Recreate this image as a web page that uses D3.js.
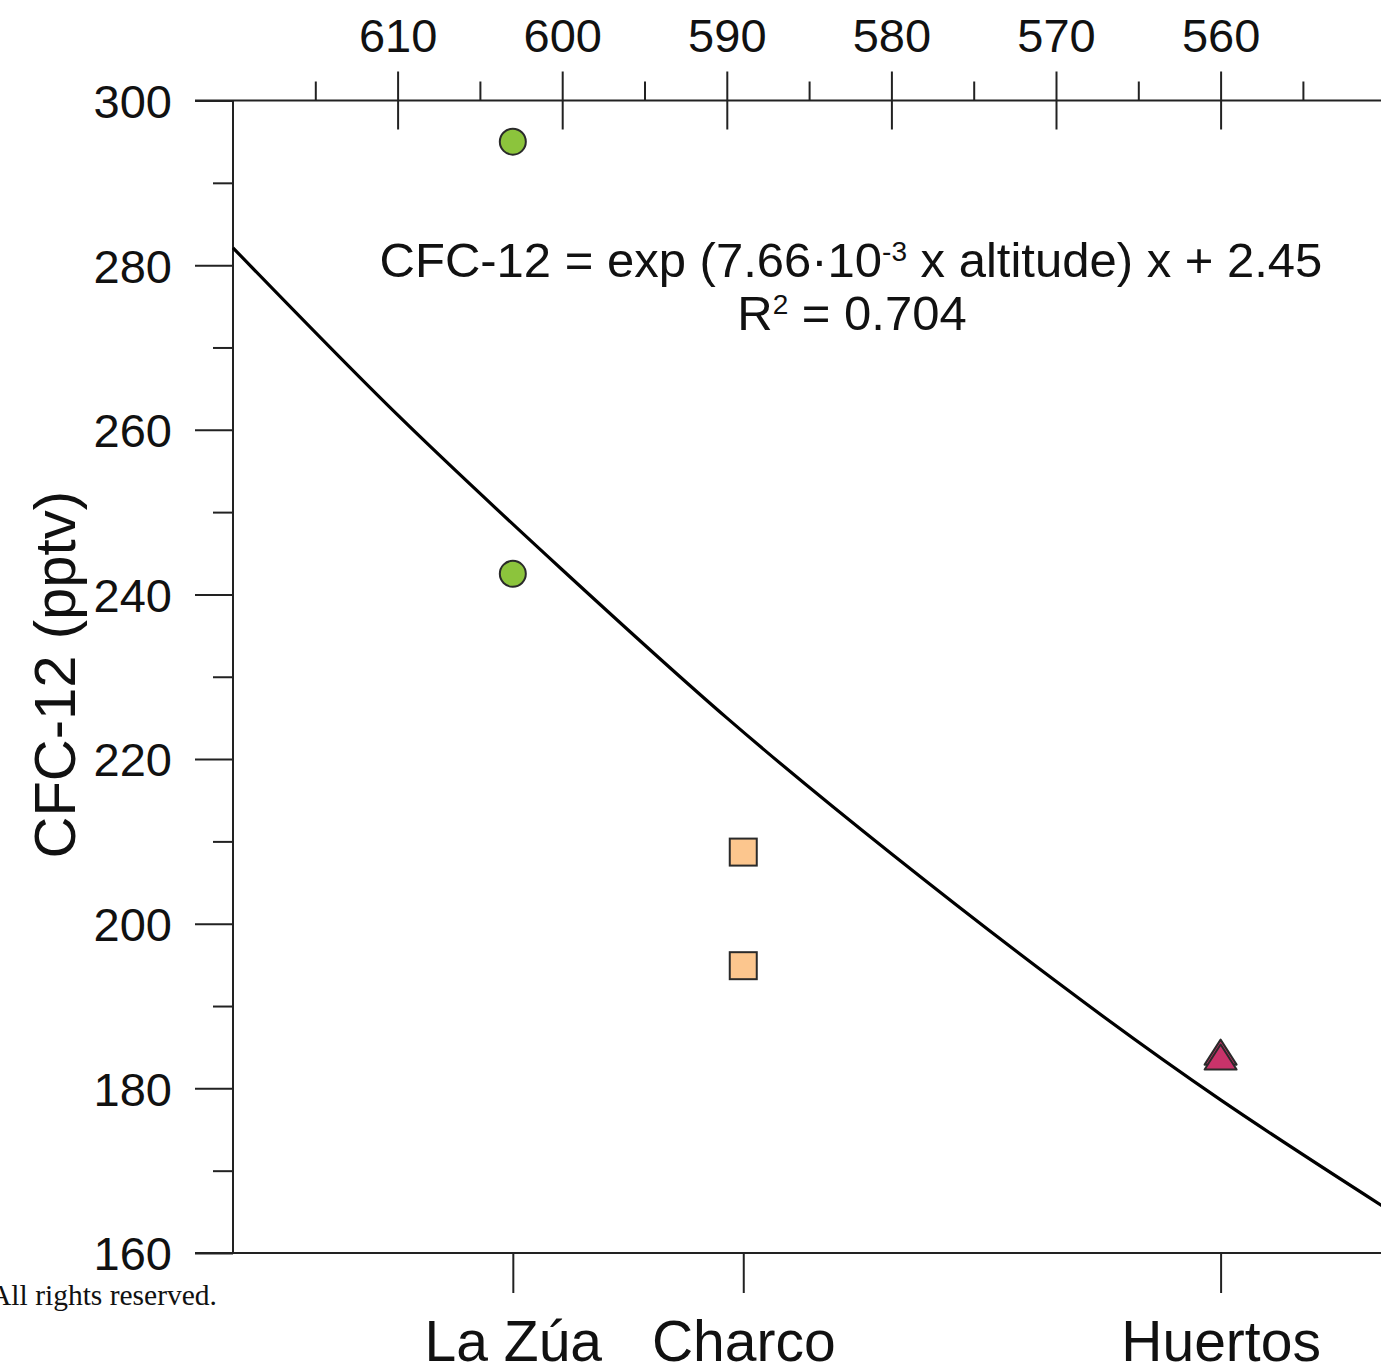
<!DOCTYPE html>
<html>
<head>
<meta charset="utf-8">
<script src="https://cdn.jsdelivr.net/npm/d3@7"></script>
<style>
  html, body { margin: 0; padding: 0; background: #fff; }
  svg { display: block; }
  text { font-family: "Liberation Sans", Arial, sans-serif; fill: #111; }
</style>
</head>
<body>
<svg id="chart" width="1381" height="1372"></svg>
<script>
// ---- data ----
const siteNames = ["La Zúa", "Charco", "Huertos"];
const siteAltitudes = [603, 589, 560];

const laZuaValues = [295.0, 242.5];
const charcoValues = [208.7, 194.9];
const huertosValues = [184.4, 183.8];

// fitted curve (altitude, CFC-12)
const fitAltitudes = [620, 610, 600, 590, 580, 570, 560, 550];
const fitValues = [282.1, 261.8, 243.0, 225.0, 208.5, 193.0, 178.6, 165.5];

const altitudeTicks = [610, 600, 590, 580, 570, 560];
const altitudeMinorTicks = [615, 605, 595, 585, 575, 565, 555];
const cfcTicks = [160, 180, 200, 220, 240, 260, 280, 300];
const cfcMinorTicks = [170, 190, 210, 230, 250, 270, 290];

const yTitle = "CFC-12 (pptv)";
const footnote = "All rights reserved.";

// ---- layout ----
const svg = d3.select("#chart");
const plotLeft = 233, plotTop = 100.5, plotBottom = 1253, plotRight = 1385.2;

const x = d3.scaleLinear().domain([620, 550]).range([plotLeft, plotRight]);
const y = d3.scaleLinear().domain([160, 300]).range([plotBottom, plotTop]);

const axisColor = "#222";

// frame lines (top and bottom extend left of the y axis)
svg.append("line").attr("x1", 195).attr("x2", 1381).attr("y1", plotTop).attr("y2", plotTop)
  .attr("stroke", axisColor).attr("stroke-width", 2);
svg.append("line").attr("x1", 195).attr("x2", 1381).attr("y1", plotBottom).attr("y2", plotBottom)
  .attr("stroke", axisColor).attr("stroke-width", 2);
svg.append("line").attr("x1", plotLeft).attr("x2", plotLeft).attr("y1", plotTop).attr("y2", plotBottom)
  .attr("stroke", axisColor).attr("stroke-width", 2);

function styleAxis(g) {
  g.select(".domain").remove();
  g.selectAll(".tick line").attr("stroke", axisColor).attr("stroke-width", 2);
}

// top axis: major ticks crossing the line, labels above
svg.append("g").attr("transform", `translate(0,${plotTop})`)
  .call(d3.axisTop(x).tickValues(altitudeTicks).tickSize(29).tickPadding(19.5).tickFormat(d3.format("d")))
  .call(styleAxis)
  .call(g => g.selectAll("text").attr("font-size", 47).attr("fill", "#111")
    .attr("font-family", "'Liberation Sans', Arial, sans-serif"));
svg.append("g").attr("transform", `translate(0,${plotTop})`)
  .call(d3.axisBottom(x).tickValues(altitudeTicks).tickSize(29).tickFormat(""))
  .call(styleAxis);
svg.append("g").attr("transform", `translate(0,${plotTop})`)
  .call(d3.axisTop(x).tickValues(altitudeMinorTicks).tickSize(19).tickFormat(""))
  .call(styleAxis);

// left axis
svg.append("g").attr("transform", `translate(${plotLeft},0)`)
  .call(d3.axisLeft(y).tickValues(cfcTicks).tickSize(38).tickPadding(23).tickFormat(d3.format("d")))
  .call(styleAxis)
  .call(g => g.selectAll("text").attr("font-size", 47).attr("fill", "#111").attr("dy", "0.36em")
    .attr("font-family", "'Liberation Sans', Arial, sans-serif"));
svg.append("g").attr("transform", `translate(${plotLeft},0)`)
  .call(d3.axisLeft(y).tickValues(cfcMinorTicks).tickSize(20).tickFormat(""))
  .call(styleAxis);

// bottom category axis (sites)
svg.append("g").attr("transform", `translate(0,${plotBottom})`)
  .call(d3.axisBottom(x).tickValues(siteAltitudes).tickSize(40).tickPadding(28)
    .tickFormat((d, i) => siteNames[i]))
  .call(styleAxis)
  .call(g => g.selectAll("text").attr("font-size", 57).attr("fill", "#111").attr("dy", "0.71em")
    .attr("font-family", "'Liberation Sans', Arial, sans-serif"));

// y title
svg.append("text")
  .attr("transform", `translate(75,${(plotTop + plotBottom) / 2 - 2}) rotate(-90)`)
  .attr("text-anchor", "middle")
  .attr("font-size", 58)
  .text(yTitle);

// fitted curve
const fitData = fitAltitudes.map((a, i) => ({ a, v: fitValues[i] }));
svg.append("path")
  .datum(fitData)
  .attr("fill", "none")
  .attr("stroke", "#000")
  .attr("stroke-width", 3.2)
  .attr("d", d3.line().x(d => x(d.a)).y(d => y(d.v)).curve(d3.curveNatural));

// equation
const eq = svg.append("text").attr("x", 851).attr("y", 277).attr("text-anchor", "middle").attr("font-size", 49);
eq.append("tspan").text("CFC-12 = exp (7.66\u00B710");
eq.append("tspan").attr("font-size", 28).attr("dy", -16).text("-3");
eq.append("tspan").attr("dy", 16).text(" x altitude) x + 2.45");
const r2 = svg.append("text").attr("x", 852).attr("y", 330).attr("text-anchor", "middle").attr("font-size", 49);
r2.append("tspan").text("R");
r2.append("tspan").attr("font-size", 28).attr("dy", -16).text("2");
r2.append("tspan").attr("dy", 16).text(" = 0.704");

// points
const stroke = "#2a2a2a";
svg.selectAll("circle.zua").data(laZuaValues).join("circle")
  .attr("class", "zua")
  .attr("cx", x(siteAltitudes[0])).attr("cy", d => y(d)).attr("r", 13)
  .attr("fill", "#8cc43c").attr("stroke", stroke).attr("stroke-width", 2);

const sq = 27;
svg.selectAll("rect.charco").data(charcoValues).join("rect")
  .attr("class", "charco")
  .attr("x", x(siteAltitudes[1]) - sq / 2).attr("y", d => y(d) - sq / 2)
  .attr("width", sq).attr("height", sq)
  .attr("fill", "#fcc68e").attr("stroke", stroke).attr("stroke-width", 2);

const triW = 32, triH = 25;
svg.selectAll("path.huertos").data(huertosValues).join("path")
  .attr("class", "huertos")
  .attr("d", d => {
    const cx = x(siteAltitudes[2]), cy = y(d);
    const p = d3.path();
    p.moveTo(cx, cy - triH / 2);
    p.lineTo(cx + triW / 2, cy + triH / 2);
    p.lineTo(cx - triW / 2, cy + triH / 2);
    p.closePath();
    return p.toString();
  })
  .attr("fill", "#c9336a").attr("stroke", stroke).attr("stroke-width", 2).attr("stroke-linejoin", "round");

// footnote
svg.append("text")
  .attr("x", 217).attr("y", 1305)
  .attr("text-anchor", "end")
  .attr("font-size", 29.5)
  .style("font-family", "'Liberation Serif', 'Times New Roman', serif")
  .text(footnote);
</script>
</body>
</html>
